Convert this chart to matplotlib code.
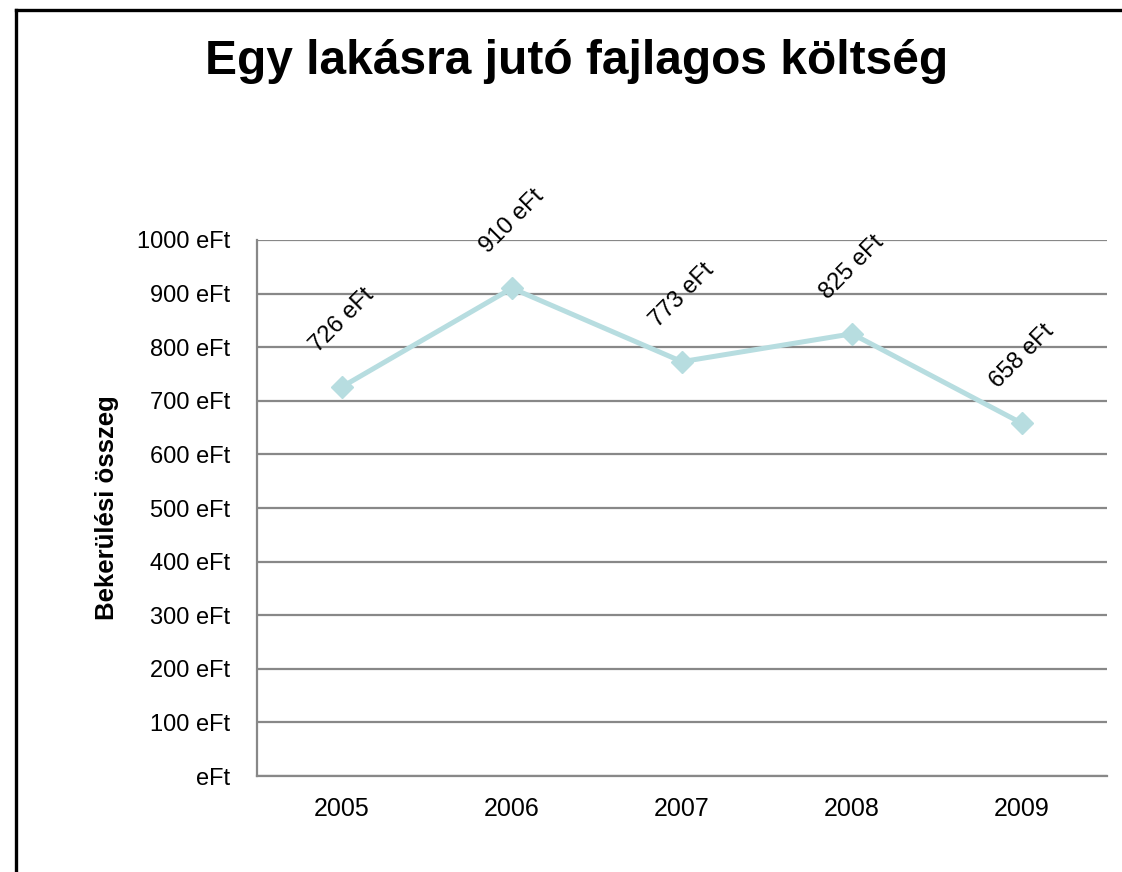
import matplotlib.pyplot as plt
from matplotlib.lines import Line2D

plt.rcParams['font.family'] = ['Liberation Sans', 'DejaVu Sans']

# adatok
evek = ['2005', '2006', '2007', '2008', '2009']
koltseg = [726, 910, 773, 825, 658]
y_ertekek = [0, 100, 200, 300, 400, 500, 600, 700, 800, 900, 1000]
y_feliratok = ['eFt', '100 eFt', '200 eFt', '300 eFt', '400 eFt', '500 eFt',
               '600 eFt', '700 eFt', '800 eFt', '900 eFt', '1000 eFt']

fig = plt.figure(figsize=(11.22, 8.72), dpi=100)
ax = fig.add_axes([0.229, 0.110, 0.7576, 0.6148])

x = range(len(evek))
ax.plot(x, koltseg, color='#b7dde0', lw=3.6, marker='D', markersize=11,
        markerfacecolor='#b7dde0', markeredgecolor='#b7dde0', zorder=3)

# adatfeliratok 45 fokban
for i, v in zip(x, koltseg):
    ax.annotate(f'{v} eFt', (i, v), xytext=(0, 48), textcoords='offset points',
                rotation=45, ha='center', va='center', fontsize=17, color='black')

ax.set_xlim(-0.5, len(evek) - 0.5)
ax.set_ylim(0, 1000)
ax.set_xticks(list(x))
ax.set_xticklabels(evek, fontsize=18)
ax.set_yticks(y_ertekek)
ax.set_yticklabels(y_feliratok, fontsize=17)
ax.tick_params(axis='both', length=0)
ax.tick_params(axis='y', pad=19)
ax.tick_params(axis='x', pad=15)

ax.grid(axis='y', color='#888888', lw=1.6)
ax.set_axisbelow(True)
for s in ['top', 'right']:
    ax.spines[s].set_visible(False)
for s in ['left', 'bottom']:
    ax.spines[s].set_color('#888888')
    ax.spines[s].set_linewidth(1.6)

fig.text(0.514, 0.930, 'Egy lakásra jutó fajlagos költség', ha='center', va='center',
         fontsize=34.5, fontweight='bold')
fig.text(0.095, 0.418, 'Bekerülési összeg', ha='center', va='center',
         rotation=90, fontsize=18.5, fontweight='bold')

# keret (bal és felső szél)
fig.add_artist(Line2D([0.0143, 0.0143], [0.0, 0.9885], transform=fig.transFigure,
                      color='black', lw=2.4))
fig.add_artist(Line2D([0.0143, 1.0], [0.9885, 0.9885], transform=fig.transFigure,
                      color='black', lw=2.4))

plt.savefig('out.png', dpi=100)
